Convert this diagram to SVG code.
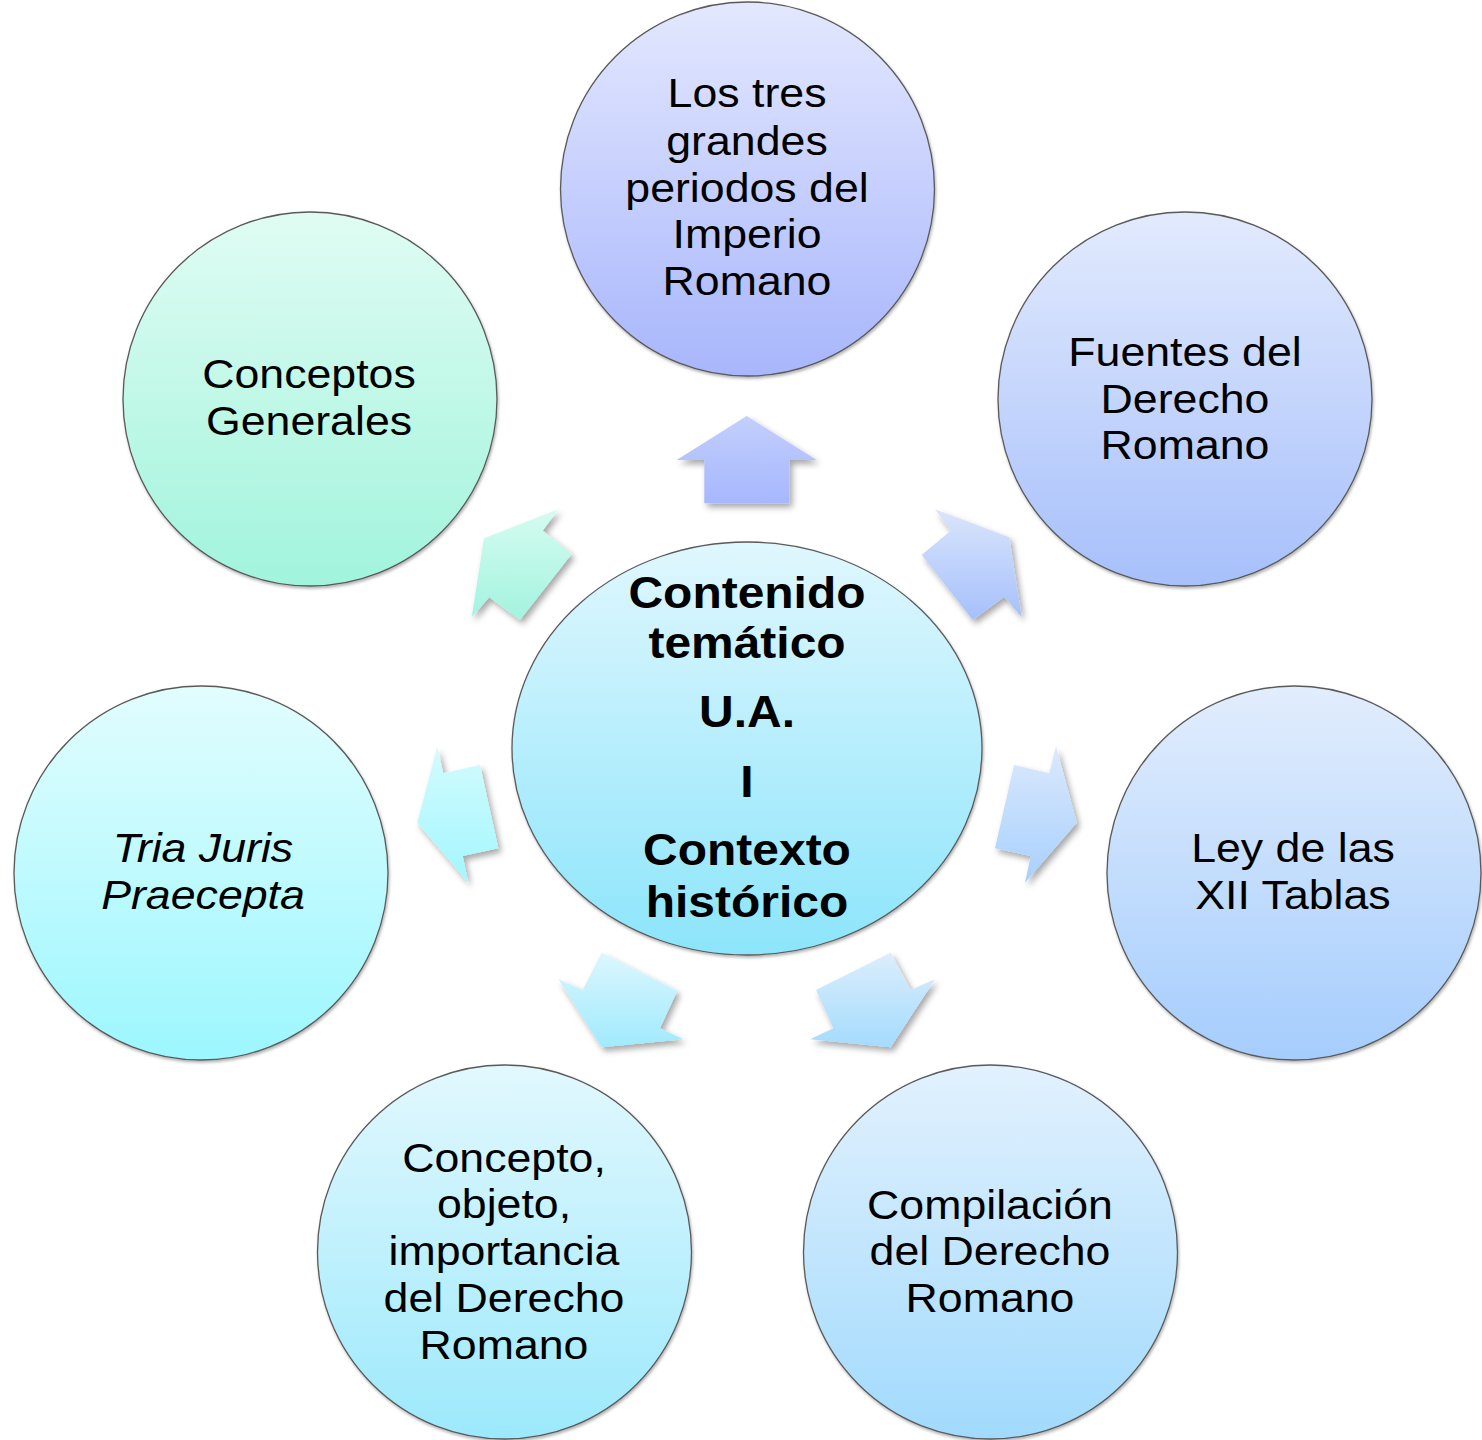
<svg xmlns="http://www.w3.org/2000/svg" width="1482" height="1440" viewBox="0 0 1482 1440">
<style>
.t{font-family:"Liberation Sans",Arial,sans-serif;font-size:41px;fill:#000;text-anchor:middle}
.tb{font-family:"Liberation Sans",Arial,sans-serif;font-size:44px;font-weight:bold;fill:#000;text-anchor:middle}
.it{font-style:italic}
.c{stroke:#5a5a5a;stroke-width:1.3}
</style>
<defs>
<linearGradient id="gTop" x1="0" y1="0" x2="0" y2="1"><stop offset="0" stop-color="#e3e8fe"/><stop offset="1" stop-color="#a8b6fc"/></linearGradient>
<linearGradient id="gTR" x1="0" y1="0" x2="0" y2="1"><stop offset="0" stop-color="#e2eafd"/><stop offset="1" stop-color="#a7c0fb"/></linearGradient>
<linearGradient id="gR" x1="0" y1="0" x2="0" y2="1"><stop offset="0" stop-color="#e2edfd"/><stop offset="1" stop-color="#a5cdfd"/></linearGradient>
<linearGradient id="gBR" x1="0" y1="0" x2="0" y2="1"><stop offset="0" stop-color="#e2f1fe"/><stop offset="1" stop-color="#a1dafd"/></linearGradient>
<linearGradient id="gBL" x1="0" y1="0" x2="0" y2="1"><stop offset="0" stop-color="#e2f8fe"/><stop offset="1" stop-color="#9ce9fc"/></linearGradient>
<linearGradient id="gL" x1="0" y1="0" x2="0" y2="1"><stop offset="0" stop-color="#e2fdfe"/><stop offset="1" stop-color="#9cf7fe"/></linearGradient>
<linearGradient id="gTL" x1="0" y1="0" x2="0" y2="1"><stop offset="0" stop-color="#e0fcf3"/><stop offset="1" stop-color="#a1f4dc"/></linearGradient>
<linearGradient id="gC" x1="0" y1="0" x2="0" y2="1"><stop offset="0" stop-color="#e0f7fe"/><stop offset="1" stop-color="#8ce5fb"/></linearGradient>
<linearGradient id="aTop" x1="0" y1="0" x2="0" y2="1"><stop offset="0" stop-color="#c3cffd"/><stop offset="1" stop-color="#a6b7fd"/></linearGradient>
<linearGradient id="aTR" x1="0" y1="0" x2="0" y2="1"><stop offset="0" stop-color="#dae5fc"/><stop offset="1" stop-color="#a5c0fb"/></linearGradient>
<linearGradient id="aR" x1="0" y1="0" x2="0" y2="1"><stop offset="0" stop-color="#dbe9fc"/><stop offset="1" stop-color="#a8d0fe"/></linearGradient>
<linearGradient id="aBR" x1="0" y1="0" x2="0" y2="1"><stop offset="0" stop-color="#dbeefc"/><stop offset="1" stop-color="#a5dbfd"/></linearGradient>
<linearGradient id="aBL" x1="0" y1="0" x2="0" y2="1"><stop offset="0" stop-color="#dcf7fe"/><stop offset="1" stop-color="#a0eafd"/></linearGradient>
<linearGradient id="aL" x1="0" y1="0" x2="0" y2="1"><stop offset="0" stop-color="#d3fbfe"/><stop offset="1" stop-color="#a2f7fe"/></linearGradient>
<linearGradient id="aTL" x1="0" y1="0" x2="0" y2="1"><stop offset="0" stop-color="#d5fcf0"/><stop offset="1" stop-color="#a3f3df"/></linearGradient>
<filter id="sh" x="-20%" y="-20%" width="150%" height="150%"><feDropShadow dx="3" dy="4" stdDeviation="3" flood-color="#000" flood-opacity="0.35"/></filter>
<filter id="csh" x="-10%" y="-10%" width="125%" height="125%"><feDropShadow dx="1" dy="2" stdDeviation="1.5" flood-color="#000" flood-opacity="0.3"/></filter>
</defs>

<g id="connectors">
<polygon fill="url(#aTop)" filter="url(#sh)" points="746.7,416 816.7,460 789.3,460 789.3,503.3 704.3,503.3 704.3,460 676.7,460"/>
<polygon fill="url(#aTR)" filter="url(#sh)" points="935,509.3 950.7,530.7 921.7,555 972.7,620 1004.3,596.7 1021.7,617.3 1009.3,537.3"/>
<polygon fill="url(#aTL)" filter="url(#sh)" points="558.3,509.3 542.7,530.7 571.7,554 520,620 489.3,597.3 471.7,617.3 484,538.3"/>
<polygon fill="url(#aR)" filter="url(#sh)" points="1056,746 1049.3,773.3 1014,765 995,848.3 1030.7,856 1025,882.7 1076.7,822.7"/>
<polygon fill="url(#aL)" filter="url(#sh)" points="437.3,746.7 443.3,773.3 480,765 498.3,848.3 462.7,856 468.3,882.7 417.3,822.7"/>
<polygon fill="url(#aBL)" filter="url(#sh)" points="601.7,952.7 582.7,990 558.3,979.3 601.7,1047.3 683.3,1039.3 660,1028.3 677.3,990.7"/>
<polygon fill="url(#aBR)" filter="url(#sh)" points="890.7,952.7 910.7,990 935,979.3 890.7,1047.3 810,1039.3 833.3,1028.3 816,990"/>
</g>

<g id="node-center">
<ellipse class="c" cx="747" cy="748.5" rx="235" ry="206.5" fill="url(#gC)" filter="url(#csh)"/>
<g transform="translate(747 0) scale(1.09 1)">
<text class="tb" x="0" y="608">Contenido</text>
<text class="tb" x="0" y="658">temático</text>
<text class="tb" x="0" y="727">U.A.</text>
<text class="tb" x="0" y="797">I</text>
<text class="tb" x="0" y="865">Contexto</text>
<text class="tb" x="0" y="917">histórico</text>
</g>
</g>

<g id="node-top">
<circle class="c" cx="747.5" cy="189" r="187" fill="url(#gTop)" filter="url(#csh)"/>
<g transform="translate(747 0) scale(1.09 1)">
<text class="t" x="0" y="107">Los tres</text>
<text class="t" x="0" y="155">grandes</text>
<text class="t" x="0" y="202">periodos del</text>
<text class="t" x="0" y="248">Imperio</text>
<text class="t" x="0" y="295">Romano</text>
</g>
</g>

<g id="node-top-right">
<circle class="c" cx="1185" cy="399" r="187" fill="url(#gTR)" filter="url(#csh)"/>
<g transform="translate(1185 0) scale(1.09 1)">
<text class="t" x="0" y="366">Fuentes del</text>
<text class="t" x="0" y="413">Derecho</text>
<text class="t" x="0" y="459">Romano</text>
</g>
</g>

<g id="node-right">
<circle class="c" cx="1294" cy="873" r="187" fill="url(#gR)" filter="url(#csh)"/>
<g transform="translate(1293 0) scale(1.09 1)">
<text class="t" x="0" y="862">Ley de las</text>
<text class="t" x="0" y="909">XII Tablas</text>
</g>
</g>

<g id="node-bottom-right">
<circle class="c" cx="990.5" cy="1252" r="187" fill="url(#gBR)" filter="url(#csh)"/>
<g transform="translate(990 0) scale(1.09 1)">
<text class="t" x="0" y="1219">Compilación</text>
<text class="t" x="0" y="1265">del Derecho</text>
<text class="t" x="0" y="1312">Romano</text>
</g>
</g>

<g id="node-bottom-left">
<circle class="c" cx="504.5" cy="1252" r="187" fill="url(#gBL)" filter="url(#csh)"/>
<g transform="translate(504 0) scale(1.09 1)">
<text class="t" x="0" y="1172">Concepto,</text>
<text class="t" x="0" y="1218">objeto,</text>
<text class="t" x="0" y="1265">importancia</text>
<text class="t" x="0" y="1312">del Derecho</text>
<text class="t" x="0" y="1359">Romano</text>
</g>
</g>

<g id="node-left">
<circle class="c" cx="201" cy="873" r="187" fill="url(#gL)" filter="url(#csh)"/>
<g transform="translate(203 0) scale(1.09 1)">
<text class="t it" x="0" y="862">Tria Juris</text>
<text class="t it" x="0" y="909">Praecepta</text>
</g>
</g>

<g id="node-top-left">
<circle class="c" cx="310" cy="399" r="187" fill="url(#gTL)" filter="url(#csh)"/>
<g transform="translate(309 0) scale(1.09 1)">
<text class="t" x="0" y="388">Conceptos</text>
<text class="t" x="0" y="435">Generales</text>
</g>
</g>
</svg>
